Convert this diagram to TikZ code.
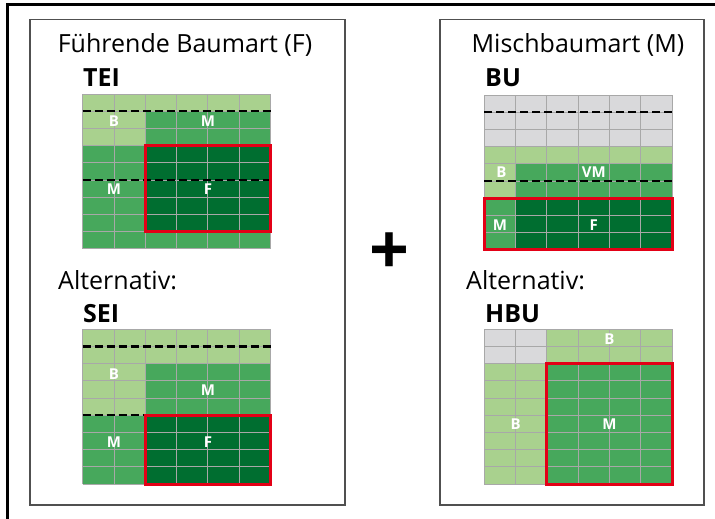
\documentclass[tikz,border=0pt]{standalone}
\usepackage{fontspec}
\setmainfont{Open Sans}
\definecolor{lgreen}{HTML}{A9D18E}
\definecolor{mgreen}{HTML}{47A85C}
\definecolor{dgreen}{HTML}{006E30}
\definecolor{cgray}{HTML}{D9D9DB}
\definecolor{gline}{HTML}{A8A8A8}
\definecolor{redbox}{HTML}{E30016}
\definecolor{panelline}{HTML}{505050}
\tikzset{
  cellL/.style={fill=lgreen},
  cellM/.style={fill=mgreen},
  cellD/.style={fill=dgreen},
  cellG/.style={fill=cgray},
  gridln/.style={draw=gline,line width=1pt},
  cutline/.style={draw=black,line width=2.2pt,dash pattern=on 8pt off 4pt},
  redframe/.style={draw=redbox,line width=3pt},
  lbl/.style={text=white,font=\bfseries\fontsize{15}{17}\selectfont,inner sep=0pt},
  ttl/.style={font=\fontsize{25}{30}\selectfont,inner sep=0pt},
  spc/.style={font=\bfseries\fontsize{25}{30}\selectfont,inner sep=0pt},
  panel/.style={draw=panelline,line width=1.2pt},
  gridscope/.style={x=31.3pt,y=-17.2pt}
}
\newcommand{\cellgrid}{%
  \foreach \i in {0,...,6} {\draw[gridln] (\i,0) -- (\i,9);}
  \foreach \j in {0,...,9} {\draw[gridln] (0,\j) -- (6,\j);}
}
\begin{document}
\begin{tikzpicture}[x=1pt,y=-1pt]
\useasboundingbox (0,0) rectangle (715,519);
\fill[white] (0,0) rectangle (715,519);
% outer frame
\draw[line width=2.6pt] (7.5,530) -- (7.5,4.5) -- (730,4.5);
% panels
\draw[panel] (30,19.5) rectangle (345,505);
\draw[panel] (440,19.5) rectangle (704,505);
% titles
\node[ttl,anchor=base] (t1) at (185,53) {Führende Baumart (F)};
\node[ttl,anchor=base] (t2) at (578,53) {Mischbaumart (M)};
\node[spc,anchor=base west] (s1) at (83,87) {TEI};
\node[spc,anchor=base west] (s3) at (485,87) {BU};
\node[ttl,anchor=base west] (a1) at (58,289.5) {Alternativ:};
\node[ttl,anchor=base west] (a2) at (466,289.5) {Alternativ:};
\node[spc,anchor=base west] (s2) at (83,322) {SEI};
\node[spc,anchor=base west] (s4) at (485,322) {HBU};
\node[font=\bfseries\fontsize{70}{70}\selectfont,inner sep=0pt] (plus) at (389,254) {+};
% grid 1 TEI
\begin{scope}[shift={(82.7pt,-94pt)},gridscope]
  \fill[cellL] (0,0) rectangle (6,1);
  \fill[cellL] (0,1) rectangle (2,3);
  \fill[cellM] (2,1) rectangle (6,3);
  \fill[cellM] (0,3) rectangle (2,8);
  \fill[cellM] (0,8) rectangle (6,9);
  \fill[cellD] (2,3) rectangle (6,8);
  \cellgrid
  \draw[cutline] (0,1) -- (6,1);
  \draw[cutline] (0,5) -- (6,5);
  \draw[redframe] (2,3) rectangle (6,8);
  \node[lbl] (g1b) at (1,1.55) {B};
  \node[lbl] (g1m) at (4,1.55) {M};
  \node[lbl] (g1m2) at (1,5.55) {M};
  \node[lbl] (g1f) at (4,5.55) {F};
\end{scope}
% grid 2 SEI
\begin{scope}[shift={(82.7pt,-329.3pt)},gridscope]
  \fill[cellL] (0,0) rectangle (6,2);
  \fill[cellL] (0,2) rectangle (2,5);
  \fill[cellM] (2,2) rectangle (6,5);
  \fill[cellM] (0,5) rectangle (2,9);
  \fill[cellD] (2,5) rectangle (6,9);
  \cellgrid
  \draw[cutline] (0,1) -- (6,1);
  \draw[cutline] (0,5) -- (2,5);
  \draw[redframe] (2,5) rectangle (6,9);
  \node[lbl] (g2b) at (1,2.6) {B};
  \node[lbl] (g2m) at (4,3.55) {M};
  \node[lbl] (g2m2) at (1,6.55) {M};
  \node[lbl] (g2f) at (4,6.55) {F};
\end{scope}
% grid 3 BU
\begin{scope}[shift={(484.3pt,-95pt)},gridscope]
  \fill[cellG] (0,0) rectangle (6,3);
  \fill[cellL] (0,3) rectangle (6,4);
  \fill[cellL] (0,4) rectangle (1,6);
  \fill[cellM] (1,4) rectangle (6,6);
  \fill[cellM] (0,6) rectangle (1,9);
  \fill[cellD] (1,6) rectangle (6,9);
  \cellgrid
  \draw[cutline] (0,1) -- (6,1);
  \draw[cutline] (0,5) -- (6,5);
  \draw[redframe] (0,6) rectangle (6,9);
  \node[lbl] (g3b) at (0.55,4.5) {B};
  \node[lbl] (g3vm) at (3.5,4.5) {VM};
  \node[lbl] (g3m) at (0.5,7.55) {M};
  \node[lbl] (g3f) at (3.5,7.55) {F};
\end{scope}
% grid 4 HBU
\begin{scope}[shift={(484.3pt,-329.3pt)},gridscope]
  \fill[cellG] (0,0) rectangle (2,2);
  \fill[cellL] (2,0) rectangle (6,2);
  \fill[cellL] (0,2) rectangle (2,9);
  \fill[cellM] (2,2) rectangle (6,9);
  \cellgrid
  \draw[redframe] (2,2) rectangle (6,9);
  \node[lbl] (g4b) at (4,0.55) {B};
  \node[lbl] (g4b2) at (1,5.5) {B};
  \node[lbl] (g4m) at (4,5.5) {M};
\end{scope}
\end{tikzpicture}
\end{document}
